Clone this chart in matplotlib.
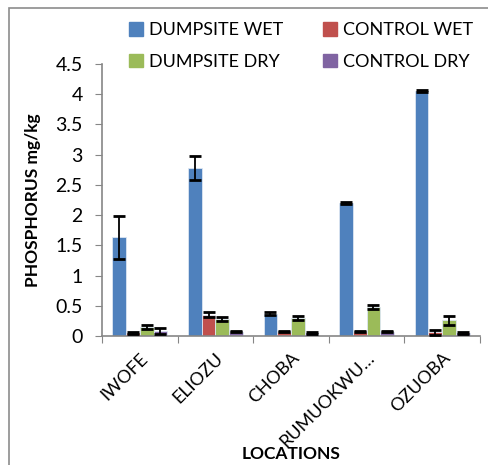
import matplotlib
matplotlib.use("Agg")
import matplotlib.pyplot as plt
import numpy as np
from matplotlib.patches import Rectangle

plt.rcParams['font.family'] = ['Lato', 'DejaVu Sans']

# data
locations = ["IWOFE", "ELIOZU", "CHOBA", "RUMUOKWU\u2026", "OZUOBA"]
series = ["DUMPSITE WET", "CONTROL WET", "DUMPSITE DRY", "CONTROL DRY"]
dumpsite_wet = [1.63, 2.78, 0.37, 2.20, 4.05]
control_wet = [0.05, 0.35, 0.07, 0.07, 0.06]
dumpsite_dry = [0.15, 0.28, 0.30, 0.48, 0.26]
control_dry = [0.08, 0.07, 0.05, 0.07, 0.05]
dumpsite_wet_err = [0.35, 0.20, 0.03, 0.02, 0.02]
control_wet_err = [0.01, 0.04, 0.01, 0.01, 0.04]
dumpsite_dry_err = [0.03, 0.03, 0.03, 0.04, 0.07]
control_dry_err = [0.05, 0.01, 0.01, 0.01, 0.01]
colors = ["#4F81BD", "#C0504D", "#9BBB59", "#8064A2"]

values = [dumpsite_wet, control_wet, dumpsite_dry, control_dry]
errors = [dumpsite_wet_err, control_wet_err, dumpsite_dry_err, control_dry_err]

fig = plt.figure(figsize=(4.88, 4.65), dpi=100)
ax = fig.add_axes([102/488, 1-336/465, 378/488, 272/465])

# outer chart border
fig.patches.append(Rectangle((9/488, -0.1), 1.2, 1 - 8/465 + 0.1, transform=fig.transFigure,
                             fill=False, edgecolor="#8c8c8c", linewidth=1.2))

x = np.arange(len(locations))
w = 1/5.5
for i, (vals, errs) in enumerate(zip(values, errors)):
    pos = x + (i - 1.5) * w
    ax.bar(pos, vals, width=w, color=colors[i], edgecolor="#dce6f2", linewidth=0.6,
           label=series[i], zorder=2)
    ax.errorbar(pos, vals, yerr=errs, fmt="none", ecolor="black", elinewidth=1.3,
                capsize=4.5, capthick=2, zorder=3)

ax.set_xlim(-0.5, len(locations) - 0.5)
ax.set_ylim(0, 4.5)
ax.set_yticks(np.arange(0, 4.51, 0.5))
ax.set_yticklabels(["0", "0.5", "1", "1.5", "2", "2.5", "3", "3.5", "4", "4.5"])
ax.set_xticks(np.arange(-0.5, len(locations), 1.0))
ax.set_xticklabels([])
ax.set_xticks(x, minor=True)
ax.set_xticklabels(locations, minor=True, rotation=45, ha="right", va="top",
                   rotation_mode="anchor", fontsize=13)
ax.tick_params(axis="x", which="minor", length=0, pad=10)
ax.tick_params(axis="x", which="major", length=5, color="#868686")
ax.tick_params(axis="y", length=5, color="#868686", labelsize=14, pad=9)

for s in ["top", "right"]:
    ax.spines[s].set_visible(False)
for s in ["left", "bottom"]:
    ax.spines[s].set_color("#868686")
    ax.spines[s].set_linewidth(1.2)

ax.set_ylabel("PHOSPHORUS mg/kg", fontsize=12.5, fontweight="bold")
ax.yaxis.set_label_coords(-(102 - 41) / 378, 0.5)
ax.set_xlabel("LOCATIONS", fontsize=12.5, fontweight="bold")
ax.xaxis.set_label_coords((291 - 102) / 378, -(446 - 336) / 272)

# legend fills column-wise, so order as rows: DW, CW / DD, CD
order = [0, 2, 1, 3]
handles = [plt.Rectangle((0, 0), 1, 1, color=colors[k]) for k in order]
fig.legend(handles, [series[k] for k in order], loc="upper left",
           bbox_to_anchor=(113/488, 1 - 6/465),
           ncol=2, frameon=False, fontsize=13, handlelength=0.75, handleheight=0.75,
           handletextpad=0.35, columnspacing=2.2, labelspacing=0.85)

fig.savefig("out.png", dpi=100)
